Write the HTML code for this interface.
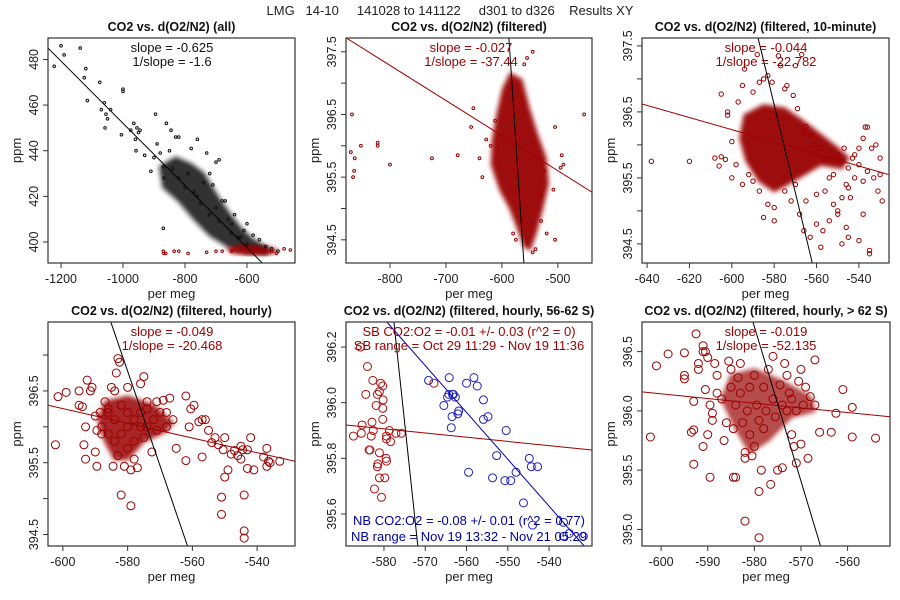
<!DOCTYPE html>
<html><head><meta charset="utf-8"><style>
body{margin:0;background:#fff}
svg{display:block;font-family:"Liberation Sans",sans-serif}
</style></head><body>
<svg id="chart" width="900" height="600" viewBox="0 0 900 600">
<defs><filter id="soft" x="-20%" y="-20%" width="140%" height="140%"><feGaussianBlur stdDeviation="2.2"/></filter></defs>
<rect width="900" height="600" fill="#fff"/>
<text x="450" y="15" text-anchor="middle" font-size="13" fill="#222" xml:space="preserve">LMG   14-10     141028 to 141122     d301 to d326    Results XY</text>
</svg>
<script>
// ---------- data ----------
const p1BlackX=[-1222,-1200,-1190,-1138,-1125,-1120,-1115,-1075,-1070,-1060,-1058,-1055,-1050,-1040,-1000,-1000,-1005,-975,-965,-960,-955,-950,-945,-958,-930,-910,-900,-895,-890,-880,-870,-868,-860,-850,-845,-830,-820,-870,-780,-760,-730,-700,-690,-720,-710,-670,-650,-640,-610,-600,-580,-560,-540,-520,-500,-800,-760,-740,-700,-680,-660,-620,-840,-820,-790,-770,-750,-720,-690,-650,-630,-600];
const p1BlackY=[477,486,482,485,472,476,462,470,458,461,450,456,454,458,467,466,447,449,452,445,450,448,449,440,438,431,437,456,443,439,433,428,452,440,449,446,446,406,441,445,439,435,436,430,425,418,408,412,405,408,403,401,398,397,396,424,420,426,415,418,410,402,432,428,430,422,417,412,409,404,402,399];
const p1BlackPolyX=[-880,-830,-780,-740,-700,-660,-620,-580,-530,-540,-600,-660,-720,-770,-820,-870];
const p1BlackPolyY=[433,437,434,430,421,413,406,401,397,395,396,398,403,410,418,424];
const p1RedX=[-870,-868,-862,-820,-835,-790,-730,-700,-680,-480,-460,-650,-520,-505];
const p1RedY=[396,395,395,396,396,395,395.5,396,396,397,396.5,396,396,395];
const p1RedPolyX=[-660,-600,-560,-520,-500,-540,-600,-650];
const p1RedPolyY=[397.5,398.5,398,397,396,394.5,394.5,395.5];

const p2X=[-868,-870,-863,-866,-864,-852,-822,-822,-800,-725,-679,-651,-655,-640,-635,-620,-545,-555,-560,-453,-505,-493,-490,-495,-508,-505,-520,-545,-540,-575,-580,-530,-628,-612,-525,-530];
const p2Y=[396.5,395.9,395.8,395.5,395.6,396.0,396.05,396.0,395.7,395.8,395.85,396.6,396.3,395.8,395.5,396.0,397.5,397.4,397.3,396.5,396.3,395.85,395.7,395.65,395.3,394.5,394.6,394.3,394.35,394.5,394.6,394.8,396.1,396.4,395.6,395.2];
const p2PolyX=[-598,-585,-565,-552,-538,-522,-518,-528,-540,-550,-560,-572,-585,-603,-618,-616,-608];
const p2PolyY=[396.9,397.15,397.05,396.6,396.2,395.8,395.4,395.0,394.6,394.35,394.4,394.7,395.0,395.3,395.7,396.1,396.5];

const p3X=[-638,-620,-608,-606,-605,-603,-600,-600,-598,-605,-602,-602,-594,-595,-597,-590,-587,-585,-583,-581,-577,-575,-574,-571,-569,-566,-565,-563,-561,-558,-556,-553,-550,-548,-545,-542,-540,-537,-536,-534,-532,-530,-530,-529,-538,-542,-545,-548,-550,-552,-554,-556,-557,-560,-560,-563,-565,-566,-568,-570,-572,-575,-580,-580,-583,-585,-587,-590,-592,-595,-546,-545,-540,-535,-535,-548,-550,-558,-543,-538,-536,-533,-531,-538,-544,-546,-552,-554,-547,-540,-578,-588,-567,-570];
const p3Y=[395.75,395.75,395.8,395.68,395.82,395.78,396.05,395.5,395.7,396.77,396.5,396.45,397.15,396.9,396.65,396.8,396.95,397.0,397.05,396.95,397.2,396.85,396.9,396.75,396.55,396.2,396.28,396.15,396.0,395.95,395.78,395.8,395.85,395.75,395.65,395.85,395.7,396.27,396.27,395.95,396.0,395.8,395.55,395.15,395.45,395.5,395.35,395.2,395.0,395.1,394.85,395.3,394.7,395.25,394.8,394.6,395.15,394.7,394.95,395.4,395.15,395.3,394.85,395.05,395.1,394.9,395.3,395.45,395.55,395.4,394.75,394.6,394.55,394.4,394.35,394.5,394.95,394.45,395.8,396.1,395.6,395.5,395.3,394.95,395.2,395.4,395.55,395.5,395.95,395.95,397.35,397.37,397.37,397.2];
const p3PolyX=[-594,-585,-575,-566,-558,-550,-545,-548,-558,-566,-574,-580,-587,-593,-596];
const p3PolyY=[396.45,396.6,396.55,396.35,396.15,395.95,395.8,395.65,395.7,395.55,395.4,395.3,395.45,395.75,396.1];

const p4X=[-602.3,-601.5,-599,-595,-595,-594,-593.5,-593,-593,-592.5,-591.5,-591,-590,-590,-589.5,-589.5,-588.5,-588,-587,-586,-585,-584.5,-584,-583.5,-583,-582.5,-582,-581,-580,-579,-579,-577,-576,-575,-574,-572.5,-571,-569,-567,-566,-565,-562,-562,-561,-560.5,-559.5,-558,-557,-557,-556,-555,-554,-553,-552,-551,-551,-550.5,-550,-550,-549,-548,-547,-546,-545,-545,-544.5,-544,-544,-544,-543,-543,-542,-541,-538,-537,-537,-536.5,-536,-533,-586,-584,-582,-580,-578,-576,-574,-572,-570,-568,-584,-582,-580,-578,-576,-574,-586,-588,-580,-583,-578,-575,-571,-568];
const p4Y=[395.75,396.42,396.48,396.5,396.3,396.28,395.75,395.55,396.0,396.65,396.5,396.55,395.65,396.15,395.95,395.45,396.2,395.9,396.35,396.25,396.55,395.45,396.5,396.75,396.95,396.9,395.05,395.45,396.55,395.4,394.9,395.43,396.6,396.7,396.35,395.65,396.35,396.37,396.4,396.1,395.7,396.43,395.53,396.0,396.25,396.3,396.07,396.1,395.58,396.1,395.95,395.78,395.85,395.75,395.02,394.78,395.68,395.85,395.3,395.4,395.62,395.67,395.6,395.73,395.55,395.68,395.05,394.55,394.45,395.68,395.42,395.85,395.4,395.58,395.7,395.45,395.52,395.5,395.52,396.2,396.1,396.3,396.2,396.1,396.2,396.0,396.1,396.2,396.0,395.8,395.9,395.7,395.8,396.0,396.25,395.9,396.0,396.0,395.6,395.55,395.85,395.95,396.2];
const p4PolyX=[-587,-580,-572,-566,-569,-575,-580,-584,-587,-589];
const p4PolyY=[396.35,396.42,396.3,396.05,395.92,395.8,395.55,395.55,395.8,396.1];

const p5RedX=[-585.7,-584.0,-582.7,-584.4,-580.8,-580.3,-581.1,-581.6,-580.2,-581.9,-580.3,-580.3,-582.9,-585.3,-587.4,-585.5,-583.1,-582.6,-578.7,-579.4,-579.4,-578.4,-577.1,-575.8,-583.6,-583.4,-581.1,-581.5,-581.6,-579.5,-579.4,-581.1,-579.8,-582.3,-580.6,-567.9];
const p5RedY=[396.20,396.13,396.08,396.03,396.07,396.06,396.04,396.03,396.01,395.99,395.98,395.94,395.93,395.92,395.88,395.89,395.88,395.90,395.90,395.88,395.87,395.86,395.89,395.89,395.83,395.83,395.82,395.78,395.77,395.80,395.79,395.73,395.73,395.69,395.66,396.07];
const p5BlueX=[-569.2,-564.2,-558.2,-560.0,-557.4,-564.3,-563.4,-562.7,-564.6,-565.5,-555.9,-561.9,-562.1,-563.5,-555.9,-554.8,-563.7,-550.4,-552.7,-559.5,-548.0,-553.7,-550.7,-549.3,-544.8,-544.3,-542.8,-546.2,-544.0,-536.5,-536.5,-535.1,-531.7,-563.2];
const p5BlueY=[396.08,396.09,396.09,396.07,396.06,396.03,396.03,396.02,396.02,395.99,396.01,395.97,395.96,395.95,395.94,395.95,395.91,395.90,395.81,395.75,395.75,395.73,395.72,395.72,395.80,395.77,395.77,395.64,395.56,395.57,395.52,395.53,395.52,396.03];

const p6X=[-602.3,-601,-598.5,-595,-595,-595,-593,-593.5,-593,-593,-592.5,-592,-592,-591,-591,-591,-590.5,-590,-590.5,-590,-589.5,-589.5,-589,-589,-588.5,-588,-588,-587,-586.5,-586,-585.5,-585,-585,-584.5,-584,-584.5,-584,-583.5,-583,-583,-582.5,-582,-582,-582,-581.5,-581,-581,-580.5,-580,-580,-579.5,-579,-579,-579,-578.5,-578,-578,-577.5,-577,-576.5,-576,-576,-575.5,-575,-574.5,-574,-574,-573.5,-573,-573,-572.5,-572,-572,-571.5,-571,-571,-570.5,-570,-570,-569.5,-569,-568.5,-568,-567,-567,-566,-563.5,-562.5,-561,-559,-559,-554];
const p6Y=[395.78,396.38,396.48,396.49,396.3,396.27,396.08,395.82,395.84,395.55,396.65,396.40,396.35,396.55,396.50,395.70,396.50,396.45,396.18,395.80,395.44,396.05,395.98,395.92,396.40,396.30,396.15,396.10,395.75,395.90,396.42,396.35,396.20,395.44,395.44,395.85,396.05,396.28,396.40,396.15,395.90,395.65,395.07,395.60,396.00,396.20,395.80,395.62,396.30,395.70,396.05,395.92,395.32,394.93,395.50,396.20,395.85,396.00,396.35,395.38,396.46,396.10,395.95,395.50,396.22,396.05,395.52,396.40,396.30,396.00,396.15,395.80,396.10,395.70,395.56,396.00,396.25,396.35,395.72,396.05,396.20,395.60,396.12,396.43,396.05,395.82,395.82,395.98,396.18,396.03,395.78,395.77];
const p6PolyX=[-585,-580,-574,-568,-567,-572,-577,-581,-584,-587];
const p6PolyY=[396.3,396.35,396.25,396.12,396.0,395.95,395.75,395.65,395.85,396.1];

// fit lines [x0,y0,x1,y1,colour] in data units
const p1Lines=[[-1242,485,-552,391,'#000']];
const p2Lines=[[-878,397.72,-439,395.26,'#a00000'],[-587.5,397.72,-560.7,394.13,'#000']];
const p3Lines=[[-642.4,396.62,-525.8,395.55,'#a00000'],[-587.6,397.62,-562,394.21,'#000']];
const p4Lines=[[-604.6,396.3,-528.3,395.52,'#a00000'],[-585.2,397.46,-561.5,394.34,'#000']];
const p5Lines=[[-589.2,395.92,-529.6,395.83,'#a00000'],[-577.6,396.29,-571.8,395.485,'#000'],[-579.3,396.29,-531.5,395.485,'#0000b0']];
const p6Lines=[[-604.1,396.16,-550.9,395.95,'#a00000'],[-580.3,396.75,-565.8,394.86,'#000']];

const p1XTicks=[-1200,-1000,-800,-600], p1YTicks=[400,420,440,460,480];
const p2XTicks=[-800,-700,-600,-500], p2YTicks=[394.5,395,395.5,396,396.5,397,397.5], p2YLab=['394.5','','395.5','','396.5','','397.5'];
const p3XTicks=[-640,-620,-600,-580,-560,-540], p3YTicks=[394.5,395,395.5,396,396.5,397,397.5], p3YLab=['394.5','','395.5','','396.5','','397.5'];
const p4XTicks=[-600,-580,-560,-540], p4YTicks=[394.5,395,395.5,396,396.5,397], p4YLab=['394.5','','395.5','','396.5',''];
const p5XTicks=[-580,-570,-560,-550,-540], p5YTicks=[395.6,395.8,396,396.2], p5YLab=['395.6','395.8','396.0','396.2'];
const p6XTicks=[-600,-590,-580,-570,-560], p6YTicks=[395,395.5,396,396.5], p6YLab=['395.0','395.5','396.0','396.5'];

// ---------- drawing ----------
const NS='http://www.w3.org/2000/svg';
const svg=document.getElementById('chart');
function mk(tag,attrs,parent){const e=document.createElementNS(NS,tag);for(const k in attrs)e.setAttribute(k,attrs[k]);(parent||svg).appendChild(e);return e;}
const RED='#990000';
function panel(cfg){
  const g=mk('g',{});
  
  
  const sx=v=>cfg.L+(v-cfg.xd[0])/(cfg.xd[1]-cfg.xd[0])*(cfg.R-cfg.L);
  const sy=v=>cfg.B-(v-cfg.yd[0])/(cfg.yd[1]-cfg.yd[0])*(cfg.B-cfg.T);
  const cid='clip-'+cfg.name;
  const cp=mk('clipPath',{id:cid},g);mk('rect',{x:cfg.L,y:cfg.T,width:cfg.R-cfg.L,height:cfg.B-cfg.T},cp);
  const plot=mk('g',{'clip-path':'url(#'+cid+')'},g);
  
  
  (cfg.polys||[]).forEach(p=>{
    const pts=p.x.map((v,i)=>sx(v)+','+sy(p.y[i])).join(' ');
    const pg=mk('polygon',{points:pts,fill:p.c,'fill-opacity':p.op,stroke:p.c,'stroke-width':4,'stroke-opacity':p.op*0.5,'stroke-linejoin':'round',filter:'url(#soft)'},plot);
    
    
  });
  (cfg.series||[]).forEach(s=>{
    s.x.forEach((v,i)=>{
      const c=mk('circle',{cx:sx(v),cy:sy(s.y[i]),r:s.r,fill:s.fill||'none',stroke:s.c,'stroke-width':s.sw||1},plot);
      
      
    });
  });
  cfg.lines.forEach(l=>{
    const ln=mk('line',{x1:sx(l[0]),y1:sy(l[1]),x2:sx(l[2]),y2:sy(l[3]),stroke:l[4],'stroke-width':1},plot);
    
    
  });
  const box=mk('rect',{x:cfg.L,y:cfg.T,width:cfg.R-cfg.L,height:cfg.B-cfg.T,fill:'none',stroke:'#333','stroke-width':1.2},g);
  
  
  cfg.xt.forEach(v=>{
    const x=sx(v);
    mk('line',{x1:x,y1:cfg.B,x2:x,y2:cfg.B+5,stroke:'#333'},g);
    const t=mk('text',{x:x,y:cfg.B+20,'text-anchor':'middle','font-size':12.5,fill:'#222'},g);
    t.textContent=String(v);
    
    
  });
  cfg.yt.forEach((v,i)=>{
    const y=sy(v);
    mk('line',{x1:cfg.L-5,y1:y,x2:cfg.L,y2:y,stroke:'#333'},g);
    const lab=cfg.yl?cfg.yl[i]:String(v);
    if(lab){
      const t=mk('text',{x:0,y:0,'text-anchor':'middle','font-size':12.5,fill:'#222',transform:'translate('+(cfg.L-10)+','+y+') rotate(-90)'},g);
      t.textContent=lab;
      
      
    }
  });
  const xt=mk('text',{x:(cfg.L+cfg.R)/2,y:cfg.B+35,'text-anchor':'middle','font-size':13,fill:'#222'},g);
  xt.textContent='per meg';
  
  
  const yt=mk('text',{x:0,y:0,'text-anchor':'middle','font-size':13,fill:'#222',transform:'translate('+(cfg.L-27)+','+(cfg.T+cfg.B)/2+') rotate(-90)'},g);
  yt.textContent='ppm';
  
  
  const tt=mk('text',{x:(cfg.L+cfg.R)/2,y:cfg.T-7,'text-anchor':'middle','font-size':12.5,'font-weight':'bold',fill:'#111'},g);
  tt.textContent=cfg.title;
  
  
  cfg.notes.forEach(n=>{
    const t=mk('text',{x:n[1],y:n[2],'text-anchor':'middle','font-size':13,fill:n[3]},g);
    t.textContent=n[0];
    
    
  });
}
const TOP1=38,BOT1=263,TOP2=322,BOT2=546;
panel({name:'panel-all',L:48,R:295,T:TOP1,B:BOT1,xd:[-1242,-445],yd:[390.8,489.4],xt:p1XTicks,yt:p1YTicks,
  title:'CO2 vs. d(O2/N2) (all)',
  polys:[{x:p1BlackPolyX,y:p1BlackPolyY,c:'#111',op:0.85},{x:p1RedPolyX,y:p1RedPolyY,c:RED,op:0.95}],
  series:[{x:p1BlackX,y:p1BlackY,r:1.3,c:'#111'},{x:p1RedX,y:p1RedY,r:1.3,c:RED}],
  lines:p1Lines,notes:[['slope = -0.625',172,52,'#111'],['1/slope = -1.6',172,66,'#111']]});
panel({name:'panel-filtered',L:346,R:592,T:TOP1,B:BOT1,xd:[-878.6,-439],yd:[394.13,397.72],xt:p2XTicks,yt:p2YTicks,yl:p2YLab,
  title:'CO2 vs. d(O2/N2) (filtered)',
  polys:[{x:p2PolyX,y:p2PolyY,c:RED,op:0.95}],
  series:[{x:p2X,y:p2Y,r:1.4,c:RED}],
  lines:p2Lines,notes:[['slope = -0.027',471,52,RED],['1/slope = -37.44',471,66,RED]]});
panel({name:'panel-10-minute',L:642,R:889,T:TOP1,B:BOT1,xd:[-642.4,-525.8],yd:[394.21,397.62],xt:p3XTicks,yt:p3YTicks,yl:p3YLab,
  title:'CO2 vs. d(O2/N2) (filtered, 10-minute)',
  polys:[{x:p3PolyX,y:p3PolyY,c:RED,op:0.95}],
  series:[{x:p3X,y:p3Y,r:2.2,c:RED}],
  lines:p3Lines,notes:[['slope = -0.044',766,52,RED],['1/slope = -22.782',766,66,RED]]});
panel({name:'panel-hourly',L:48,R:295,T:TOP2,B:BOT2,xd:[-604.6,-528.3],yd:[394.34,397.46],xt:p4XTicks,yt:p4YTicks,yl:p4YLab,
  title:'CO2 vs. d(O2/N2) (filtered, hourly)',
  polys:[{x:p4PolyX,y:p4PolyY,c:RED,op:0.85}],
  series:[{x:p4X,y:p4Y,r:4,c:RED}],
  lines:p4Lines,notes:[['slope = -0.049',172,336,RED],['1/slope = -20.468',172,350,RED]]});
panel({name:'panel-hourly-56-62s',L:346,R:592,T:TOP2,B:BOT2,xd:[-589.2,-529.6],yd:[395.485,396.29],xt:p5XTicks,yt:p5YTicks,yl:p5YLab,
  title:'CO2 vs. d(O2/N2) (filtered, hourly, 56-62 S)',
  series:[{x:p5RedX,y:p5RedY,r:4,c:'#b01010'},{x:p5BlueX,y:p5BlueY,r:4,c:'#2020c0'}],
  lines:p5Lines,notes:[['SB CO2:O2 = -0.01 +/- 0.03 (r^2 = 0)',469,336,RED],['SB range = Oct 29 11:29 - Nov 19 11:36',469,350,RED],
    ['NB CO2:O2 = -0.08 +/- 0.01 (r^2 = 0.77)',469,525,'#0000a0'],['NB range = Nov 19 13:32 - Nov 21 05:29',469,541,'#0000a0']]});
panel({name:'panel-hourly-gt-62s',L:642,R:890,T:TOP2,B:BOT2,xd:[-604.1,-550.9],yd:[394.86,396.75],xt:p6XTicks,yt:p6YTicks,yl:p6YLab,
  title:'CO2 vs. d(O2/N2) (filtered, hourly, > 62 S)',
  polys:[{x:p6PolyX,y:p6PolyY,c:RED,op:0.7}],
  series:[{x:p6X,y:p6Y,r:4,c:RED}],
  lines:p6Lines,notes:[['slope = -0.019',766,336,RED],['1/slope = -52.135',766,350,RED]]});
</script>
</body></html>
